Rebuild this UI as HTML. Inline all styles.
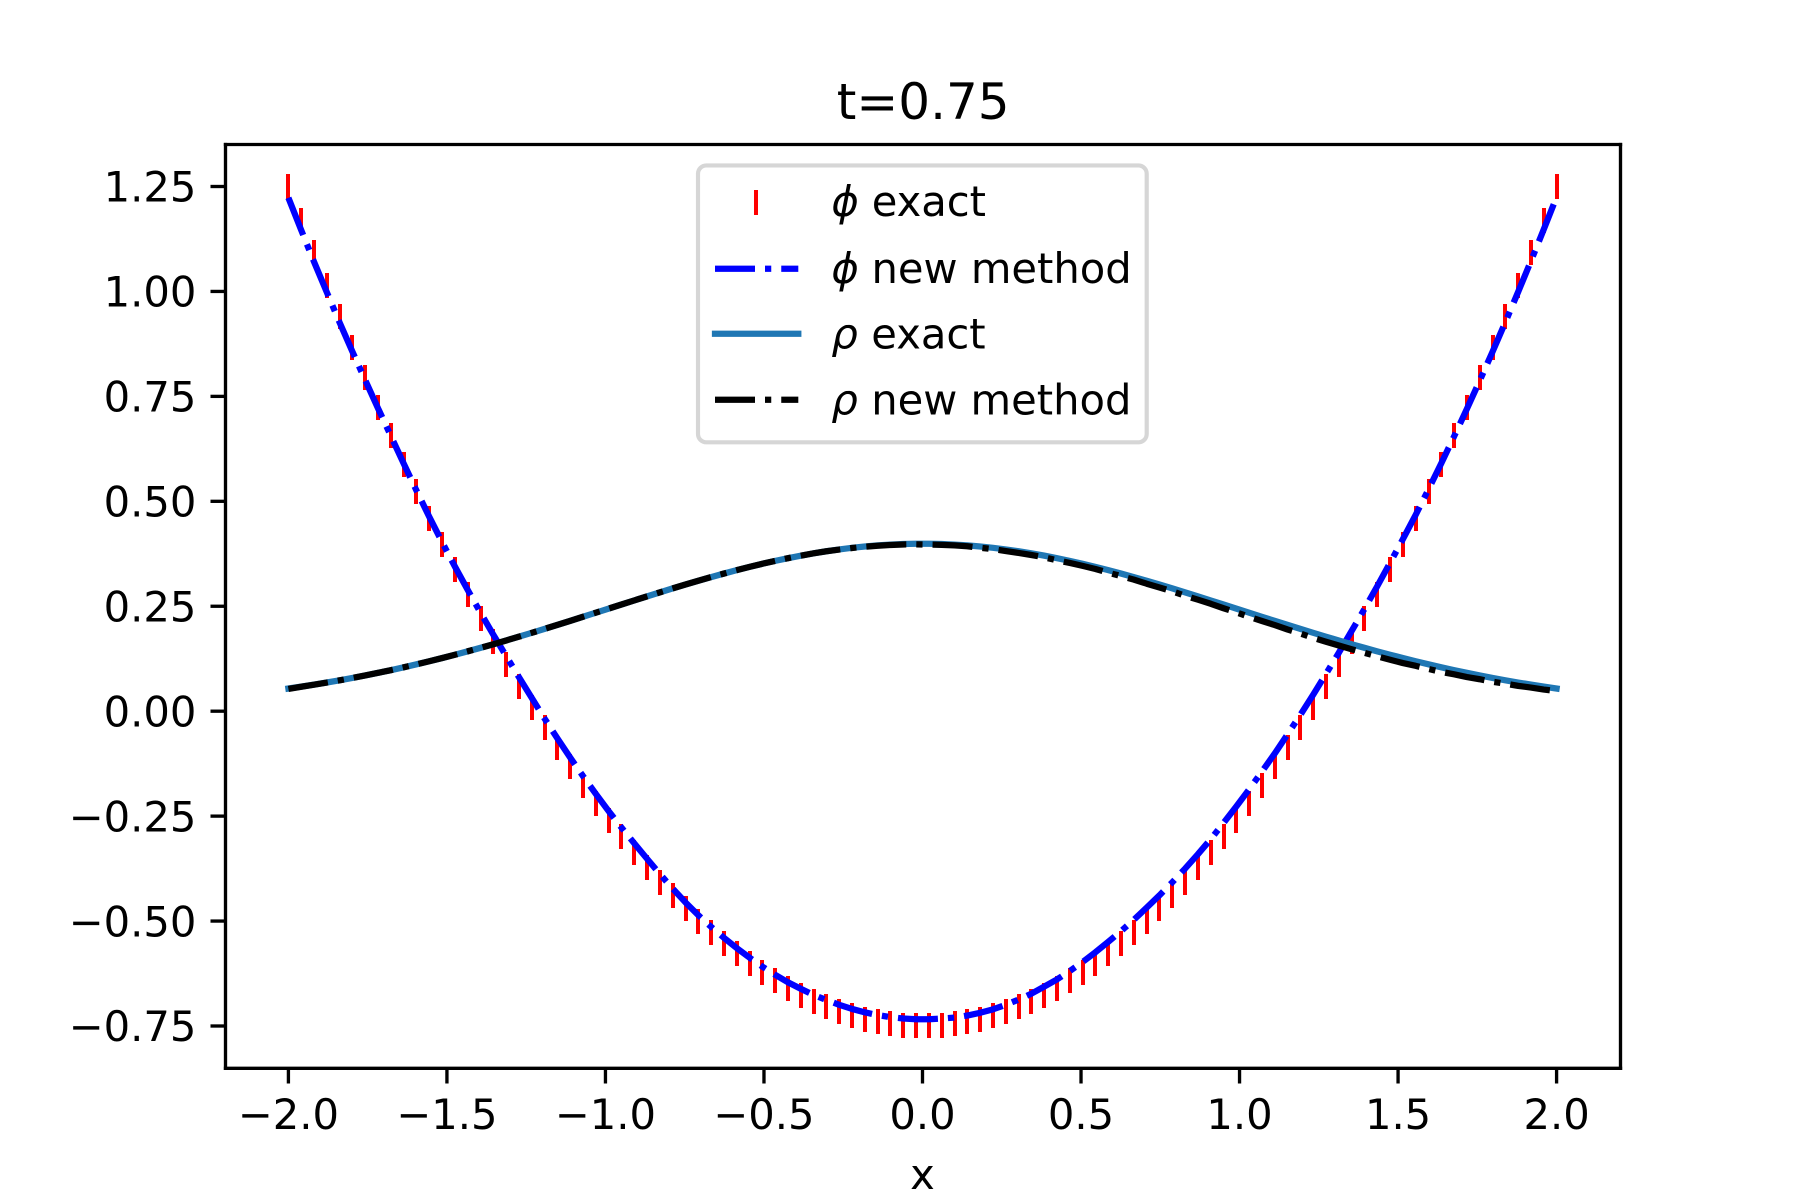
<!DOCTYPE html>
<html lang="en">
<head>
<meta charset="utf-8">
<title>t=0.75</title>
<style>
  html, body { margin: 0; padding: 0; background: #fff; }
  svg { display: block; }
  text { font-family: "DejaVu Sans", "Liberation Sans", sans-serif; fill: #000; }
</style>
</head>
<body>
<svg id="chart" xmlns="http://www.w3.org/2000/svg" width="1800" height="1200" viewBox="0 0 1800 1200">
  <rect x="0" y="0" width="1800" height="1200" fill="#fff"/>
  <text x="923.2" y="119" font-size="50" text-anchor="middle">t=0.75</text>
  <g id="series-layer"></g>
  <g id="tick-layer"></g>
  <g stroke="#000" stroke-width="3.33" stroke-linecap="square">
    <line x1="225.5" y1="144.5" x2="225.5" y2="1068.3"/>
    <line x1="1620.5" y1="144.5" x2="1620.5" y2="1068.3"/>
    <line x1="225.5" y1="144.5" x2="1620.5" y2="144.5"/>
    <line x1="225.5" y1="1068.3" x2="1620.5" y2="1068.3"/>
  </g>
  <text x="922.5" y="1189" font-size="41.67" text-anchor="middle">x</text>
  <g>
    <rect x="698" y="165.4" width="448.7" height="276.9" rx="8.33" ry="8.33" fill="#fff" fill-opacity="0.8" stroke="#ccc" stroke-opacity="0.8" stroke-width="4.17"/>
    <g>
      <rect x="754" y="190" width="4" height="25" fill="#f00"/>
      <text y="216" font-size="41.67"><tspan x="831.4" font-style="italic">ϕ</tspan><tspan x="871.7">exact</tspan></text>
    </g>
    <g>
      <line x1="715" y1="268.7" x2="798.3" y2="268.7" stroke="#00f" stroke-width="6.25" stroke-dasharray="40 10 6.25 10"/>
      <text y="282.8" font-size="41.67"><tspan x="831.4" font-style="italic">ϕ</tspan><tspan x="871.5">new method</tspan></text>
    </g>
    <g>
      <line x1="715" y1="333.7" x2="798.3" y2="333.7" stroke="#1f77b4" stroke-width="6.25" stroke-linecap="square"/>
      <text y="348.6" font-size="41.67"><tspan x="831.4" font-style="italic">ρ</tspan><tspan x="871.3">exact</tspan></text>
    </g>
    <g>
      <line x1="715" y1="399.7" x2="798.3" y2="399.7" stroke="#000" stroke-width="6.25" stroke-dasharray="40 10 6.25 10"/>
      <text y="414.5" font-size="41.67"><tspan x="831.4" font-style="italic">ρ</tspan><tspan x="871.2">new method</tspan></text>
    </g>
  </g>
</svg>
<script>
const xValues = [
-2.0000,-1.9596,-1.9192,-1.8788,-1.8384,-1.7980,-1.7576,-1.7172,-1.6768,-1.6364,
-1.5960,-1.5556,-1.5152,-1.4747,-1.4343,-1.3939,-1.3535,-1.3131,-1.2727,-1.2323,
-1.1919,-1.1515,-1.1111,-1.0707,-1.0303,-0.9899,-0.9495,-0.9091,-0.8687,-0.8283,
-0.7879,-0.7475,-0.7071,-0.6667,-0.6263,-0.5859,-0.5455,-0.5051,-0.4646,-0.4242,
-0.3838,-0.3434,-0.3030,-0.2626,-0.2222,-0.1818,-0.1414,-0.1010,-0.0606,-0.0202,
0.0202,0.0606,0.1010,0.1414,0.1818,0.2222,0.2626,0.3030,0.3434,0.3838,
0.4242,0.4646,0.5051,0.5455,0.5859,0.6263,0.6667,0.7071,0.7475,0.7879,
0.8283,0.8687,0.9091,0.9495,0.9899,1.0303,1.0707,1.1111,1.1515,1.1919,
1.2323,1.2727,1.3131,1.3535,1.3939,1.4343,1.4747,1.5152,1.5556,1.5960,
1.6364,1.6768,1.7172,1.7576,1.7980,1.8384,1.8788,1.9192,1.9596,2.0000];

const phiExact = [
1.2500,1.1700,1.0916,1.0149,0.9398,0.8664,0.7945,0.7243,0.6558,0.5888,
0.5235,0.4599,0.3978,0.3374,0.2787,0.2215,0.1660,0.1122,0.0599,0.0093,
-0.0397,-0.0870,-0.1327,-0.1768,-0.2192,-0.2600,-0.2992,-0.3368,-0.3727,-0.4070,
-0.4396,-0.4706,-0.5000,-0.5278,-0.5539,-0.5784,-0.6012,-0.6225,-0.6421,-0.6600,
-0.6763,-0.6910,-0.7041,-0.7155,-0.7253,-0.7335,-0.7400,-0.7449,-0.7482,-0.7498,
-0.7498,-0.7482,-0.7449,-0.7400,-0.7335,-0.7253,-0.7155,-0.7041,-0.6910,-0.6763,
-0.6600,-0.6421,-0.6225,-0.6012,-0.5784,-0.5539,-0.5278,-0.5000,-0.4706,-0.4396,
-0.4070,-0.3727,-0.3368,-0.2992,-0.2600,-0.2192,-0.1768,-0.1327,-0.0870,-0.0397,
0.0093,0.0599,0.1122,0.1660,0.2215,0.2787,0.3374,0.3978,0.4599,0.5235,
0.5888,0.6558,0.7243,0.7945,0.8664,0.9398,1.0149,1.0916,1.1700,1.2500];

const phiNewMethod = [
1.2230,1.1460,1.0706,0.9979,0.9258,0.8564,0.7885,0.7213,0.6558,0.5898,
0.5255,0.4629,0.4028,0.3444,0.2887,0.2345,0.1820,0.1312,0.0809,0.0313,
-0.0177,-0.0650,-0.1107,-0.1548,-0.1972,-0.2380,-0.2772,-0.3148,-0.3517,-0.3880,
-0.4226,-0.4556,-0.4860,-0.5138,-0.5399,-0.5644,-0.5872,-0.6085,-0.6281,-0.6460,
-0.6613,-0.6760,-0.6881,-0.6995,-0.7093,-0.7175,-0.7240,-0.7289,-0.7322,-0.7338,
-0.7338,-0.7322,-0.7299,-0.7250,-0.7185,-0.7103,-0.6995,-0.6871,-0.6730,-0.6563,
-0.6390,-0.6191,-0.5975,-0.5742,-0.5494,-0.5239,-0.4968,-0.4680,-0.4386,-0.4076,
-0.3750,-0.3407,-0.3048,-0.2662,-0.2270,-0.1862,-0.1438,-0.1007,-0.0550,-0.0087,
0.0393,0.0889,0.1392,0.1910,0.2435,0.2977,0.3534,0.4098,0.4679,0.5285,
0.5908,0.6548,0.7203,0.7875,0.8564,0.9268,0.9989,1.0726,1.1480,1.2250];

const rhoExact = [
0.0540,0.0585,0.0633,0.0683,0.0736,0.0792,0.0851,0.0913,0.0978,0.1046,
0.1116,0.1190,0.1266,0.1345,0.1426,0.1510,0.1596,0.1685,0.1775,0.1867,
0.1961,0.2056,0.2152,0.2249,0.2347,0.2444,0.2542,0.2639,0.2736,0.2831,
0.2925,0.3017,0.3107,0.3195,0.3279,0.3360,0.3438,0.3512,0.3581,0.3646,
0.3706,0.3761,0.3810,0.3854,0.3892,0.3924,0.3950,0.3969,0.3982,0.3989,
0.3989,0.3982,0.3969,0.3950,0.3924,0.3892,0.3854,0.3810,0.3761,0.3706,
0.3646,0.3581,0.3512,0.3438,0.3360,0.3279,0.3195,0.3107,0.3017,0.2925,
0.2831,0.2736,0.2639,0.2542,0.2444,0.2347,0.2249,0.2152,0.2056,0.1961,
0.1867,0.1775,0.1685,0.1596,0.1510,0.1426,0.1345,0.1266,0.1190,0.1116,
0.1046,0.0978,0.0913,0.0851,0.0792,0.0736,0.0683,0.0633,0.0585,0.0540];

const rhoNewMethod = [
0.0530,0.0582,0.0632,0.0683,0.0736,0.0792,0.0851,0.0913,0.0978,0.1046,
0.1116,0.1190,0.1266,0.1345,0.1426,0.1510,0.1596,0.1685,0.1775,0.1867,
0.1961,0.2056,0.2152,0.2249,0.2347,0.2444,0.2542,0.2639,0.2736,0.2831,
0.2925,0.3017,0.3107,0.3195,0.3279,0.3360,0.3438,0.3512,0.3581,0.3646,
0.3706,0.3761,0.3810,0.3850,0.3888,0.3918,0.3942,0.3960,0.3972,0.3975,
0.3969,0.3962,0.3949,0.3930,0.3894,0.3862,0.3814,0.3770,0.3721,0.3666,
0.3596,0.3531,0.3462,0.3388,0.3300,0.3219,0.3135,0.3037,0.2947,0.2855,
0.2751,0.2656,0.2559,0.2452,0.2354,0.2247,0.2149,0.2052,0.1946,0.1851,
0.1747,0.1655,0.1565,0.1476,0.1390,0.1306,0.1225,0.1146,0.1080,0.1006,
0.0936,0.0878,0.0813,0.0761,0.0702,0.0656,0.0603,0.0563,0.0515,0.0480];

const xTickValues = [-2, -1.5, -1, -0.5, 0, 0.5, 1, 1.5, 2];
const xTickLabels = ["\u22122.0", "\u22121.5", "\u22121.0", "\u22120.5", "0.0", "0.5", "1.0", "1.5", "2.0"];
const yTickValues = [1.25, 1, 0.75, 0.5, 0.25, 0, -0.25, -0.5, -0.75];
const yTickLabels = ["1.25", "1.00", "0.75", "0.50", "0.25", "0.00", "\u22120.25", "\u22120.50", "\u22120.75"];

const NS = "http://www.w3.org/2000/svg";

function sx(v) { return 225 + (v + 2.2) / 4.4 * 1395; }
function sy(v) { return 186.5 + (1.25 - v) * 419.75; }

function pathFrom(ys) {
  let d = "";
  for (let i = 0; i < xValues.length; i++) {
    d += (i === 0 ? "M" : "L") + sx(xValues[i]).toFixed(2) + " " + sy(ys[i]).toFixed(2);
  }
  return d;
}

const seriesLayer = document.getElementById("series-layer");
const tickLayer = document.getElementById("tick-layer");

/* phi exact: vertical-bar markers */
const markerGroup = document.createElementNS(NS, "g");


markerGroup.setAttribute("fill", "#f00");
seriesLayer.appendChild(markerGroup);
for (let i = 0; i < xValues.length; i++) {
  const m = document.createElementNS(NS, "rect");
  
  
  m.setAttribute("x", Math.round(sx(xValues[i])) - 2);
  m.setAttribute("y", Math.round(sy(phiExact[i]) - 12.5));
  m.setAttribute("width", 4);
  m.setAttribute("height", 25);
  markerGroup.appendChild(m);
}

/* phi new method */
const phiLine = document.createElementNS(NS, "path");


phiLine.setAttribute("d", pathFrom(phiNewMethod));
phiLine.setAttribute("fill", "none");
phiLine.setAttribute("stroke", "#00f");
phiLine.setAttribute("stroke-width", "6.25");
phiLine.setAttribute("stroke-linejoin", "round");
phiLine.setAttribute("stroke-dasharray", "40 10 6.25 10");
seriesLayer.appendChild(phiLine);

/* rho exact */
const rhoLine = document.createElementNS(NS, "path");


rhoLine.setAttribute("d", pathFrom(rhoExact));
rhoLine.setAttribute("fill", "none");
rhoLine.setAttribute("stroke", "#1f77b4");
rhoLine.setAttribute("stroke-width", "6.25");
rhoLine.setAttribute("stroke-linejoin", "round");
rhoLine.setAttribute("stroke-linecap", "square");
seriesLayer.appendChild(rhoLine);

/* rho new method */
const rhoNewLine = document.createElementNS(NS, "path");


rhoNewLine.setAttribute("d", pathFrom(rhoNewMethod));
rhoNewLine.setAttribute("fill", "none");
rhoNewLine.setAttribute("stroke", "#000");
rhoNewLine.setAttribute("stroke-width", "6.25");
rhoNewLine.setAttribute("stroke-linejoin", "round");
rhoNewLine.setAttribute("stroke-dasharray", "40 10 6.25 10");
seriesLayer.appendChild(rhoNewLine);

/* x axis ticks */
for (let i = 0; i < xTickValues.length; i++) {
  const px = sx(xTickValues[i]);
  const t = document.createElementNS(NS, "line");
  
  
  t.setAttribute("x1", px);
  t.setAttribute("x2", px);
  t.setAttribute("y1", 1068.3);
  t.setAttribute("y2", 1083.5);
  t.setAttribute("stroke", "#000");
  t.setAttribute("stroke-width", "3.33");
  tickLayer.appendChild(t);
  const l = document.createElementNS(NS, "text");
  
  
  l.setAttribute("x", px);
  l.setAttribute("y", 1129);
  l.setAttribute("font-size", "41.67");
  l.setAttribute("text-anchor", "middle");
  l.textContent = xTickLabels[i];
  tickLayer.appendChild(l);
}

/* y axis ticks */
for (let i = 0; i < yTickValues.length; i++) {
  const py = sy(yTickValues[i]);
  const t = document.createElementNS(NS, "line");
  
  
  t.setAttribute("x1", 210.5);
  t.setAttribute("x2", 225.5);
  t.setAttribute("y1", py);
  t.setAttribute("y2", py);
  t.setAttribute("stroke", "#000");
  t.setAttribute("stroke-width", "3.33");
  tickLayer.appendChild(t);
  const l = document.createElementNS(NS, "text");
  
  
  l.setAttribute("x", 196.4);
  l.setAttribute("y", py + 15.2);
  l.setAttribute("font-size", "41.67");
  l.setAttribute("text-anchor", "end");
  l.textContent = yTickLabels[i];
  tickLayer.appendChild(l);
}
</script>
</body>
</html>
